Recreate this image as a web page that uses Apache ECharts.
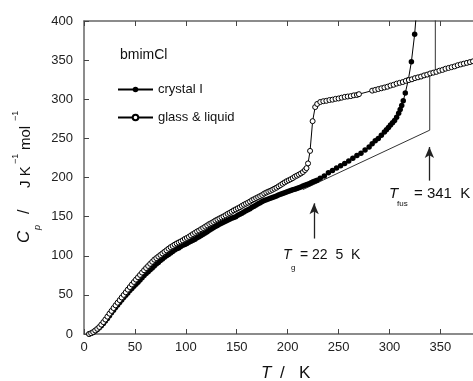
<!DOCTYPE html>
<html>
<head>
<meta charset="utf-8">
<script src="https://cdn.jsdelivr.net/npm/echarts@6/dist/echarts.min.js"></script>
<style>
  html, body { margin: 0; padding: 0; background: #fff; }
  #chart { width: 473px; height: 381px; }
</style>
</head>
<body>
<div id="chart"></div>
<script>
// crystal I (filled circles)
const crystalT = [5, 7, 9, 11, 13, 15, 17, 19, 21, 23, 25, 27, 29, 31, 33, 35, 37, 39, 41, 43, 45, 47, 49, 51, 53,
  55, 57, 59, 61, 63, 65, 67, 69, 71, 73, 75, 77, 79, 81, 83, 85, 87, 89, 91, 93, 95, 97, 99, 101, 103, 105, 107,
  109, 111, 113, 115, 117, 119, 121, 123, 125, 127, 129, 131, 133, 135, 137, 139, 141, 143, 145, 147, 149, 151,
  153, 155, 157, 159, 161, 163, 165, 167, 169, 171, 173, 175, 177, 179, 181, 183, 185, 187, 189, 191, 193, 195,
  197, 199, 201, 203, 205, 207, 209, 211, 213, 215, 217, 219, 221, 223, 225, 227, 229,
  232, 236, 240, 244, 248, 252, 256, 260, 264, 268, 272, 276, 280, 283, 286, 289, 292, 295, 297, 299, 301, 303,
  305, 307, 309, 310.5, 312, 313.5, 315.5, 318.5, 321.5, 324.7, 327]
const crystalCp = [0, 1, 2, 3.8, 5.8, 8, 10.5, 13.5, 16.5, 19.8, 23.2, 27, 30.5, 33.8, 37, 40.3, 43.5, 46.5, 49.5,
  52.5, 55.5, 58.3, 61, 63.5, 66.2, 69, 72, 74.8, 77.3, 79.5, 82, 84.5, 87, 89.3, 91.5, 94, 96, 98, 100, 101.7,
  103.5, 105.5, 107.3, 108.8, 110, 111.7, 113.3, 114.5, 115.8, 117.2, 118.5, 119.8, 121.2, 123, 124.3, 125.8,
  127.5, 129.2, 130.8, 132.5, 134.2, 135.8, 137.5, 138.8, 140.2, 141.5, 142.8, 144.2, 145.5, 146.8, 148, 149,
  150, 151.7, 153, 154.3, 155.8, 157.5, 158.8, 160.2, 162, 163.3, 165, 166.5, 167.8, 169.2, 170.5, 171.5, 172.5,
  173.5, 174.5, 175.5, 176.5, 177.5, 178.5, 179.5, 180.5, 181.5, 182.5, 183.5, 184.3, 185, 186, 187, 188, 189,
  190, 191, 192, 193.2, 194.5, 195.5, 196.5,
  199, 202, 206, 209, 212, 215, 218, 221, 224.5, 228, 231, 235, 239, 243, 247, 250, 254, 258, 261, 264, 267, 270,
  273, 277, 282, 287, 292, 298, 308, 325, 348, 383, 420]

// glass & liquid (open circles)
const glassT = [5, 7, 9, 11, 13, 15, 17, 19, 21, 23, 25, 27, 29, 31, 33, 35, 37, 39, 41, 43, 45, 47, 49, 51, 53,
  55, 57, 59, 61, 63, 65, 67, 69, 71, 73, 75, 77, 79, 81, 83, 85, 87, 89, 91, 93, 95, 97, 99, 101, 103, 105, 107,
  109, 111, 113, 115, 117, 119, 121, 123, 125, 127, 129, 131, 133, 135, 137, 139, 141, 143, 145, 147, 149, 151,
  153, 155, 157, 159, 161, 163, 165, 167, 169, 171, 173, 175, 177, 179, 181, 183, 185, 187, 189, 191, 193, 195,
  197, 199, 201, 203, 205, 207, 209, 211, 213, 215, 217, 218.5, 220, 222, 224.5, 227, 229,
  232, 235, 238, 241, 244, 247, 250, 253, 256, 259, 262, 265, 268, 270,
  283, 286, 289, 292, 295, 298, 301, 304, 307, 310, 313, 316, 319, 322, 325, 328, 331, 334, 337, 340, 343, 346,
  349, 352, 355, 358, 361, 364, 367, 370, 373, 376, 379, 382]
const glassCp = [0, 1, 2.5, 4.5, 6.6, 9, 12, 15.2, 18.5, 22.2, 26, 29.5, 33.2, 36.7, 40, 43.3, 46.7, 50, 53.3, 56.7,
  60, 63.3, 66.5, 69.5, 72.5, 75.5, 78.5, 81.5, 84.3, 87, 89.7, 92.3, 95, 97, 99, 101, 103, 105, 107, 109, 111,
  112.5, 114.2, 115.7, 117, 118.3, 119.7, 121.5, 122.8, 124.2, 126, 127.7, 129.3, 131, 132.3, 134, 135.5, 137.2,
  138.8, 140.5, 141.8, 143.3, 145, 146.3, 147.7, 149, 150.3, 151.8, 153.5, 154.8, 156.3, 158, 159.3, 160.7, 162,
  163.7, 165.2, 166.5, 167.8, 169.3, 171, 172.3, 173.7, 175, 176.3, 177.7, 179.5, 180.8, 182, 183, 184.3, 185.7,
  187, 188.7, 190.3, 192, 193.7, 195.3, 196.5, 197.8, 199.2, 201, 202.3, 203.7, 205.2, 207, 209.5, 212, 218, 234,
  272, 290, 294,
  296.5, 297.5, 298, 299, 299.5, 300.5, 301, 302, 303, 303.5, 304, 305, 305.5, 306.5,
  311, 312, 313, 314, 315, 316, 317.5, 318.5, 320, 321, 322, 323.5, 324.5, 325.5, 327, 328, 329, 330.5, 331.5,
  333, 334, 335, 336.5, 337.5, 339, 340, 341, 342, 343.5, 344.5, 345.5, 346.5, 347.5, 348.5]

// baseline and fusion construction
const baseT = [215, 339.5, 339.5, 345, 345]
const baseCp = [184.6, 260.5, 333, 335, 410]

// arrows: [T, Cp tail, Cp tip]
const arrowTg = [226, 122, 167]
const arrowFus = [339.2, 196, 239]

const xTicks = [0, 50, 100, 150, 200, 250, 300, 350]

const zip = (a, b) => a.map((v, i) => [v, b[i]])
const FONT = 'Liberation Sans'

const chart = echarts.init(document.getElementById('chart'))

const axisX = {
  type: 'value',
  min: 0,
  max: 382,
  interval: 50,
  axisLine: { show: true, onZero: false, lineStyle: { color: '#666', width: 1.5 } },
  axisTick: { show: true, inside: true, length: 5, lineStyle: { color: '#444', width: 1 } },
  splitLine: { show: false }
}

const option = {
  animation: false,
  grid: { left: 84, right: 0, top: 21, bottom: 47 },
  xAxis: [
    Object.assign({}, axisX, {
      position: 'bottom',
      axisLabel: {
        margin: 7,
        color: '#222',
        fontFamily: FONT,
        fontSize: 13,
        showMaxLabel: false,
        formatter: v => (xTicks.indexOf(v) >= 0 ? String(v) : '')
      }
    }),
    Object.assign({}, axisX, {
      position: 'top',
      axisLabel: { show: false }
    })
  ],
  yAxis: {
    type: 'value',
    min: 0,
    max: 400,
    interval: 50,
    axisLine: { show: true, lineStyle: { color: '#666', width: 1.5 } },
    axisTick: { show: true, inside: true, length: 5, lineStyle: { color: '#444', width: 1 } },
    axisLabel: { margin: 11, color: '#222', fontFamily: FONT, fontSize: 13 },
    splitLine: { show: false }
  },
  legend: {
    data: ['crystal I', 'glass & liquid'],
    orient: 'vertical',
    left: 112,
    top: 78,
    itemWidth: 35,
    itemHeight: 7,
    itemGap: 15,
    textStyle: { fontFamily: FONT, fontSize: 13, color: '#111' }
  },
  series: [
    {
      name: 'construction',
      type: 'line',
      data: zip(baseT, baseCp),
      symbol: 'none',
      lineStyle: { color: '#333', width: 1 },
      z: 1,
      silent: true,
      markLine: {
        silent: true,
        symbol: ['none', 'arrow'],
        symbolSize: [7, 11],
        label: { show: false },
        lineStyle: { color: '#222', width: 1.3, type: 'solid' },
        data: [
          [{ coord: [arrowTg[0], arrowTg[1]] }, { coord: [arrowTg[0], arrowTg[2]] }],
          [{ coord: [arrowFus[0], arrowFus[1]] }, { coord: [arrowFus[0], arrowFus[2]] }]
        ]
      }
    },
    {
      name: 'crystal I',
      type: 'line',
      data: zip(crystalT, crystalCp),
      symbol: 'circle',
      symbolSize: 5.5,
      showAllSymbol: true,
      itemStyle: { color: '#000' },
      lineStyle: { color: '#000', width: 1 },
      z: 2
    },
    {
      name: 'glass & liquid',
      type: 'line',
      data: zip(glassT, glassCp),
      symbol: 'circle',
      symbolSize: 5,
      showAllSymbol: true,
      itemStyle: { color: '#fff', borderColor: '#000', borderWidth: 1 },
      lineStyle: { color: '#000', width: 1 },
      z: 3
    }
  ],
  graphic: [
    { type: 'text', left: 120, top: 48, style: { text: 'bmimCl', font: '14px ' + FONT, fill: '#111' } },
    // T_g label
    { type: 'text', x: 283, y: 255, style: { text: 'T', font: 'italic 14px ' + FONT, fill: '#111', verticalAlign: 'middle' } },
    { type: 'text', x: 291, y: 268, style: { text: 'g', font: '8px ' + FONT, fill: '#111', verticalAlign: 'middle' } },
    { type: 'text', x: 300, y: 255, style: { text: '= 22  5  K', font: '14px ' + FONT, fill: '#111', verticalAlign: 'middle' } },
    // T_fus label
    { type: 'text', x: 389, y: 194, style: { text: 'T', font: 'italic 15px ' + FONT, fill: '#111', verticalAlign: 'middle' } },
    { type: 'text', x: 397, y: 204, style: { text: 'fus', font: '8px ' + FONT, fill: '#111', verticalAlign: 'middle' } },
    { type: 'text', x: 414, y: 194, style: { text: '= 341  K', font: '15px ' + FONT, fill: '#111', verticalAlign: 'middle' } },
    // x axis title
    { type: 'text', x: 261, y: 373, style: { text: 'T', font: 'italic 17px ' + FONT, fill: '#111', verticalAlign: 'middle' } },
    { type: 'text', x: 280, y: 373, style: { text: '/', font: '17px ' + FONT, fill: '#111', verticalAlign: 'middle' } },
    { type: 'text', x: 299, y: 373, style: { text: 'K', font: '17px ' + FONT, fill: '#111', verticalAlign: 'middle' } },
    // y axis title (rotated)
    {
      type: 'group',
      x: 33,
      y: 243,
      rotation: Math.PI / 2,
      children: [
        { type: 'text', x: 0, y: 0, style: { text: 'C', font: 'italic 17px ' + FONT, fill: '#111', verticalAlign: 'bottom' } },
        { type: 'text', x: 13, y: 9, style: { text: 'p', font: 'italic 9px ' + FONT, fill: '#111', verticalAlign: 'bottom' } },
        { type: 'text', x: 29, y: 0, style: { text: '/', font: '16px ' + FONT, fill: '#111', verticalAlign: 'bottom' } },
        { type: 'text', x: 55, y: 0, style: { text: 'J K', font: '15px ' + FONT, fill: '#111', verticalAlign: 'bottom' } },
        { type: 'text', x: 79, y: -13, style: { text: '\u22121', font: '9px ' + FONT, fill: '#111', verticalAlign: 'bottom' } },
        { type: 'text', x: 93, y: 0, style: { text: 'mol', font: '15px ' + FONT, fill: '#111', verticalAlign: 'bottom' } },
        { type: 'text', x: 122, y: -13, style: { text: '\u22121', font: '9px ' + FONT, fill: '#111', verticalAlign: 'bottom' } }
      ]
    }
  ]
}

chart.setOption(option)
</script>
</body>
</html>
